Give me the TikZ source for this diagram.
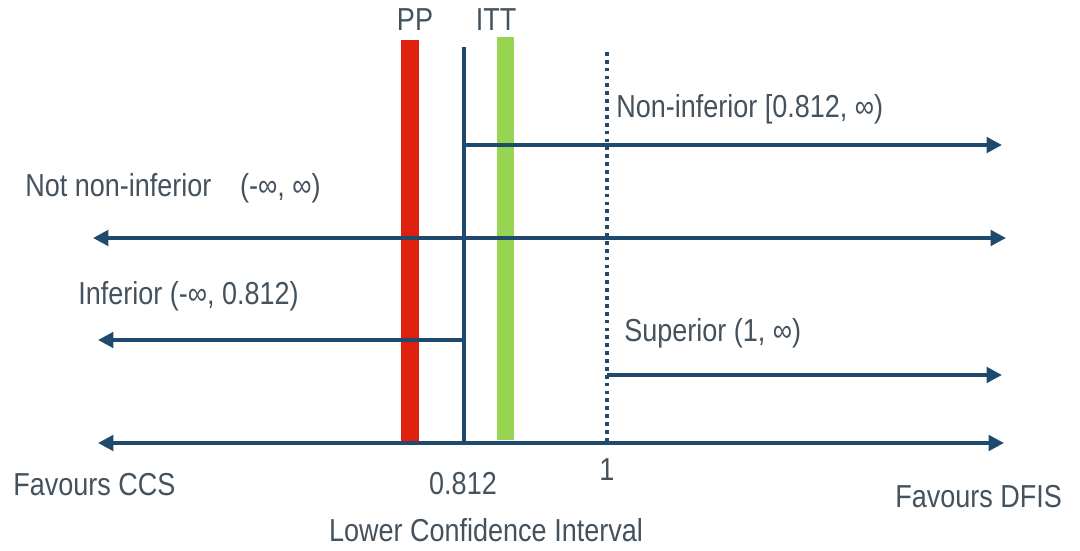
\documentclass[tikz,border=0pt]{standalone}
\usepackage{fontspec}
\setmainfont{Liberation Sans}[FakeStretch=0.85]
\usetikzlibrary{arrows.meta}

\definecolor{navy}{HTML}{1F4A6E}
\definecolor{slate}{HTML}{44525E}
\definecolor{ppred}{HTML}{E0200F}
\definecolor{ittgreen}{HTML}{96D452}

\tikzset{
  lbl/.style = {text = slate, inner sep = 0pt, font = \fontsize{22.6}{27}\selectfont},
  rangeline/.style = {draw = navy, line width = 2.6pt,
                  arrows = {-Triangle[length = 11pt, width = 11pt]}},
  bothline/.style = {rangeline, arrows = {Triangle[length = 11pt, width = 11pt]-Triangle[length = 11pt, width = 11pt]}}
}

\begin{document}
\begin{tikzpicture}[x = 0.025cm, y = -0.025cm]
        \useasboundingbox (0,0) rectangle (1080,551);

        % the two estimates
        \fill[ppred]    (401,40) rectangle (419,443);
        \fill[ittgreen] (497,37) rectangle (514,440);

        % margin and the line of no difference
        \coordinate (mtop) at (464,47);
        \coordinate (mbot) at (464,445);
        \coordinate (otop) at (607,52);
        \coordinate (obot) at (607,445);
        \draw[navy, line width = 2.4pt] (mtop) -- (mbot);
        \draw[navy, line width = 2.4pt, dash pattern = on 2.6pt off 3pt] (otop) -- (obot);

        % ranges
        \coordinate (nistart) at (464,145);
        \coordinate (niend)   at (1002,145);
        \coordinate (nnleft)  at (93,238);
        \coordinate (nnright) at (1006,238);
        \coordinate (infstart) at (464,340);
        \coordinate (infend)   at (98,340);
        \coordinate (supstart) at (607,375);
        \coordinate (supend)   at (1002,375);
        \coordinate (axleft)  at (98,443);
        \coordinate (axright) at (1004,443);

        \draw[rangeline] (nistart) -- (niend);
        \draw[bothline]  (nnleft) -- (nnright);
        \draw[rangeline] (infstart) -- (infend);
        \draw[rangeline] (supstart) -- (supend);
        \draw[bothline]  (axleft) -- (axright);

        % labels
        \node[lbl] (pp)  at (415,20) {PP};
        \node[lbl] (itt) at (496,20) {ITT};
        \node[lbl, anchor = west] (noninf) at (616,109) {Non-inferior [0.812, ∞)};
        \node[lbl, anchor = west] (notnoninf) at (25,188) {Not non-inferior\hspace{0.9em}(-∞, ∞)};
        \node[lbl, anchor = west] (inf) at (78,296) {Inferior (-∞, 0.812)};
        \node[lbl, anchor = west] (sup) at (624,333) {Superior (1, ∞)};
        \node[lbl, anchor = west] (fccs) at (13,485) {Favours CCS};
        \node[lbl] (margin) at (463,484) {0.812};
        \node[lbl] (one) at (607,470) {1};
        \node[lbl, anchor = west] (fdfis) at (895,497) {Favours DFIS};
        \node[lbl] (lci) at (486,530) {Lower Confidence Interval};
      \end{tikzpicture}
\end{document}
